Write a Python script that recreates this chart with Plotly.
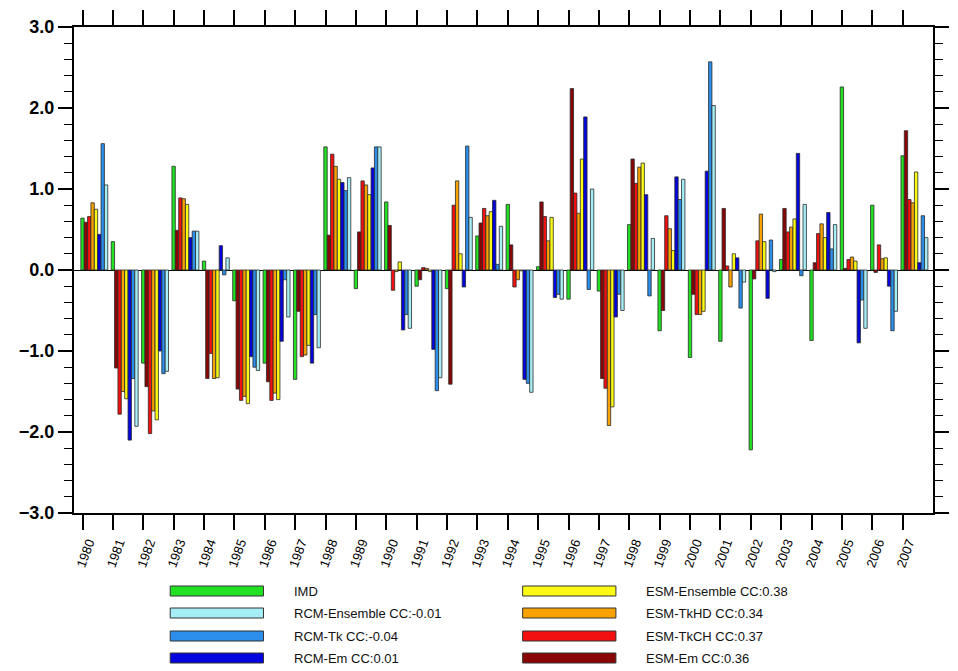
import plotly.graph_objects as go

years = list(range(1980, 2008))

series_names = ["IMD", "ESM-Em", "ESM-TkCH", "ESM-TkHD", "ESM-Ensemble",
                "RCM-Em", "RCM-Tk", "RCM-Ensemble"]
legend_labels = {
    "IMD": "IMD",
    "RCM-Ensemble": "RCM-Ensemble CC:-0.01",
    "RCM-Tk": "RCM-Tk CC:-0.04",
    "RCM-Em": "RCM-Em CC:0.01",
    "ESM-Ensemble": "ESM-Ensemble CC:0.38",
    "ESM-TkHD": "ESM-TkHD CC:0.34",
    "ESM-TkCH": "ESM-TkCH CC:0.37",
    "ESM-Em": "ESM-Em CC:0.36",
}
colors = {
    "IMD": "#22e022",
    "ESM-Em": "#8a0606",
    "ESM-TkCH": "#f21010",
    "ESM-TkHD": "#f7a200",
    "ESM-Ensemble": "#fafa14",
    "RCM-Em": "#0404de",
    "RCM-Tk": "#2a8eea",
    "RCM-Ensemble": "#a6eef6",
}

imd = [0.64, 0.35, -1.15, 1.28, 0.11, -0.38, -1.15, -1.35, 1.52, -0.23,
       0.84, -0.20, -0.23, 0.42, 0.81, 0.04, -0.36, -0.26, 0.56, -0.75,
       -1.08, -0.88, -2.22, 0.13, -0.87, 2.26, 0.80, 1.41]
esm_em = [0.59, -1.21, -1.44, 0.49, -1.34, -1.47, -1.38, -0.51, 0.43, 0.47,
          0.55, -0.12, -1.41, 0.58, 0.31, 0.84, 2.24, -1.34, 1.37, -0.50,
          -0.30, 0.76, -0.11, 0.76, 0.09, 0.02, -0.03, 1.72]
esm_tkch = [0.66, -1.78, -2.02, 0.89, -1.03, -1.61, -1.61, -1.07, 1.43, 1.10,
            -0.25, 0.03, 0.80, 0.76, -0.21, 0.66, 0.95, -1.46, 1.07, 0.67,
            -0.55, 0.05, 0.36, 0.47, 0.45, 0.13, 0.31, 0.87]
esm_tkhd = [0.83, -1.50, -1.74, 0.88, -1.34, -1.56, -1.52, -1.05, 1.28, 1.05,
            -0.02, 0.02, 1.10, 0.67, -0.12, 0.36, 0.70, -1.92, 1.27, 0.51,
            -0.55, -0.21, 0.69, 0.53, 0.57, 0.16, 0.14, 0.83]
esm_ens = [0.75, -1.59, -1.85, 0.81, -1.33, -1.65, -1.60, -0.93, 1.12, 0.93,
           0.10, -0.02, 0.20, 0.72, -0.01, 0.65, 1.37, -1.69, 1.32, 0.24,
           -0.51, 0.20, 0.35, 0.63, 0.40, 0.11, 0.15, 1.21]
rcm_em = [0.44, -2.10, -1.00, 0.40, 0.30, -1.07, -0.88, -1.15, 1.08, 1.26,
          -0.74, -0.98, -0.21, 0.86, -1.35, -0.34, 1.89, -0.58, 0.93, 1.15,
          1.22, 0.15, -0.35, 1.44, 0.71, -0.90, -0.20, 0.09]
rcm_tk = [1.56, -1.34, -1.28, 0.48, -0.06, -1.20, -0.12, -0.55, 0.98, 1.52,
          -0.55, -1.49, 1.53, 0.07, -1.40, -0.30, -0.24, -0.30, -0.32, 0.87,
          2.57, -0.47, 0.37, -0.07, 0.26, -0.37, -0.75, 0.67]
rcm_ens = [1.05, -1.93, -1.25, 0.48, 0.15, -1.24, -0.58, -0.96, 1.14, 1.52,
           -0.72, -1.33, 0.65, 0.54, -1.51, -0.36, 1.00, -0.50, 0.39, 1.12,
           2.03, -0.15, -0.02, 0.81, 0.56, -0.72, -0.51, 0.40]

values = {
    "IMD": imd, "ESM-Em": esm_em, "ESM-TkCH": esm_tkch, "ESM-TkHD": esm_tkhd,
    "ESM-Ensemble": esm_ens, "RCM-Em": rcm_em, "RCM-Tk": rcm_tk,
    "RCM-Ensemble": rcm_ens,
}

bar_w = 0.111
fig = go.Figure()
for i, name in enumerate(series_names):
    fig.add_trace(go.Bar(
        x=years, y=values[name], name=legend_labels[name],
        width=bar_w, offset=-bar_w / 2 + i * bar_w,
        marker=dict(color=colors[name], line=dict(color="#2a2a2a", width=0.8)),
        showlegend=False,
    ))

# Custom legend (two columns of wide swatches)
legend_left = ["IMD", "RCM-Ensemble", "RCM-Tk", "RCM-Em"]
legend_right = ["ESM-Ensemble", "ESM-TkHD", "ESM-TkCH", "ESM-Em"]

x0p, x1p = 74.0, 949.0
y0p, y1p = 27.0, 513.0
def px2paper_x(px):
    return (px - x0p) / (x1p - x0p)
def px2paper_y(py):
    return (y1p - py) / (y1p - y0p)

row_y = [591, 613, 636, 658]
cols = [(legend_left, 172, 267, 298), (legend_right, 531, 626, 657)]
shapes = []
annotations = []
for names, sx0, sx1, tx in cols:
    for r, name in enumerate(names):
        cy = row_y[r]
        shapes.append(dict(
            type="rect", xref="paper", yref="paper",
            x0=px2paper_x(sx0), x1=px2paper_x(sx1),
            y0=px2paper_y(cy + 5), y1=px2paper_y(cy - 5),
            fillcolor=colors[name], line=dict(color="#333333", width=1),
        ))
        annotations.append(dict(
            xref="paper", yref="paper", x=px2paper_x(tx), y=px2paper_y(cy),
            text=legend_labels[name], showarrow=False,
            xanchor="left", yanchor="middle", xshift=-2,
            font=dict(family="Liberation Sans, Arial", size=13, color="#111111"),
        ))

fig.update_layout(
    width=958, height=671,
    margin=dict(l=74, r=9, t=27, b=158),
    paper_bgcolor="white", plot_bgcolor="white",
    barmode="overlay",
    shapes=shapes, annotations=annotations,
    showlegend=False,
)
fig.update_xaxes(
    range=[1979.72, 2008.0],
    tickvals=years, ticktext=[str(y) for y in years],
    ticks="outside", ticklen=15, tickwidth=1.5, tickcolor="black",
    showline=True, linewidth=2, linecolor="black", mirror="ticks",
    showgrid=False, zeroline=False,
    tickangle=-70, ticklabelshift=6,
    tickfont=dict(family="Liberation Sans, Arial", size=13, color="black"),
)
fig.update_yaxes(
    range=[-3, 3], tickvals=[-3, -2, -1, 0, 1, 2, 3], tickformat=".1f",
    ticks="outside", ticklen=14, tickwidth=1.5, tickcolor="black",
    minor=dict(dtick=0.2, ticks="outside", ticklen=8, tickwidth=1, tickcolor="black"),
    showline=True, linewidth=2, linecolor="black", mirror="ticks",
    showgrid=False, zeroline=True, zerolinecolor="black", zerolinewidth=1,
    tickfont=dict(family="Liberation Sans, Arial", size=18, color="black", weight="bold"),
)

fig.write_html("out.html")
